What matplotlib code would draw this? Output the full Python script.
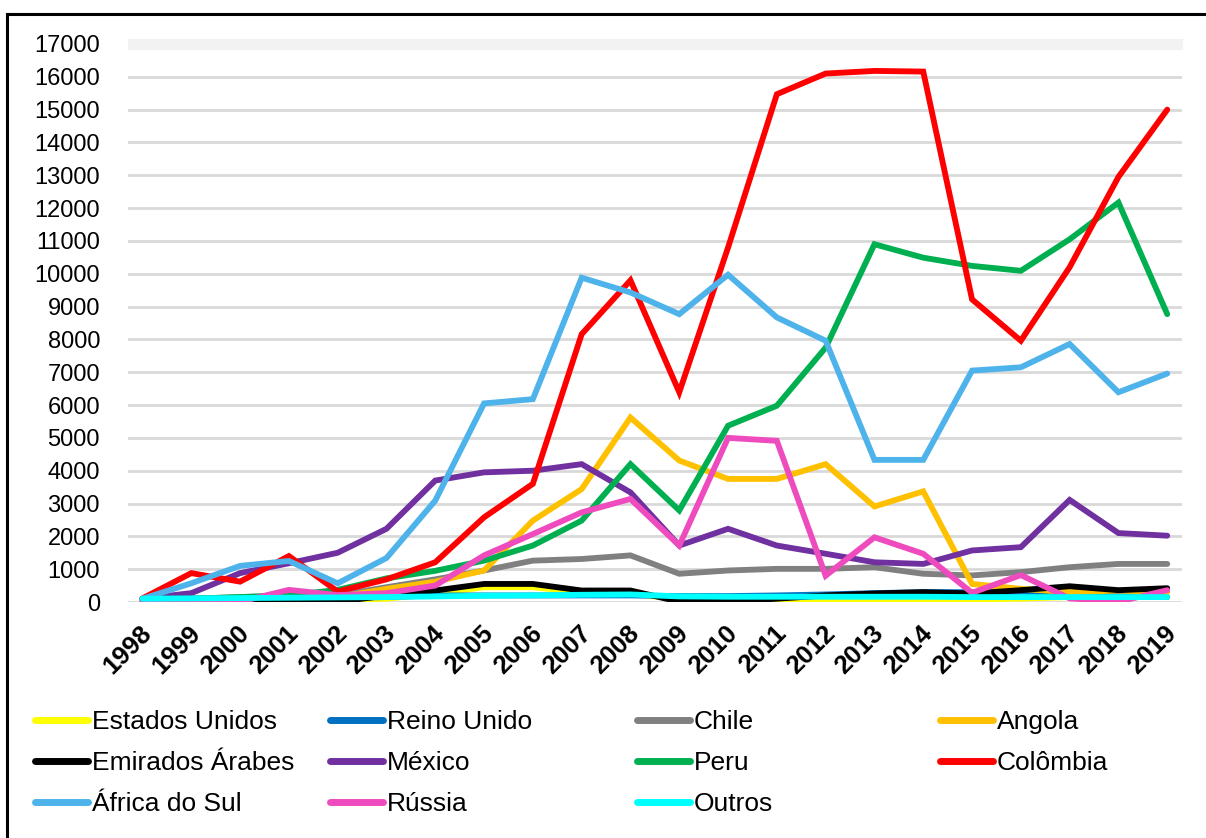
import matplotlib
matplotlib.use("Agg")
import matplotlib.pyplot as plt
from matplotlib.lines import Line2D
import matplotlib.transforms as mtransforms

plt.rcParams["font.family"] = ["Liberation Sans", "DejaVu Sans"]

years = list(range(1998, 2020))
year_labels = [str(y) for y in years]

estados_unidos = [50, 30, 20, 20, 50, 100, 250, 450, 450, 300, 250, 80, 40, 30, 50, 60, 80, 80, 100, 150, 150, 150]
reino_unido = [80, 100, 100, 120, 120, 150, 200, 200, 200, 200, 200, 180, 180, 200, 230, 270, 300, 300, 280, 200, 180, 150]
chile = [100, 100, 150, 200, 200, 450, 690, 960, 1260, 1310, 1420, 860, 960, 1010, 1010, 1060, 860, 810, 910, 1060, 1160, 1160]
angola = [100, 50, 50, 100, 150, 400, 620, 960, 2480, 3440, 5620, 4310, 3750, 3750, 4200, 2910, 3370, 550, 400, 300, 350, 300]
emirados = [50, 30, 50, 0, 0, 200, 350, 550, 550, 350, 350, 10, 10, 100, 200, 260, 300, 260, 360, 480, 360, 420]
mexico = [100, 270, 880, 1180, 1500, 2230, 3700, 3950, 4000, 4200, 3340, 1720, 2230, 1720, 1470, 1210, 1160, 1570, 1670, 3110, 2100, 2020]
peru = [100, 100, 150, 200, 370, 720, 950, 1260, 1720, 2480, 4200, 2790, 5370, 5980, 7750, 10900, 10490, 10240, 10090, 11050, 12170, 8770]
colombia = [110, 880, 620, 1400, 320, 690, 1210, 2580, 3600, 8160, 9800, 6390, 10800, 15470, 16100, 16180, 16160, 9220, 7960, 10200, 12950, 15000]
africa_do_sul = [100, 570, 1100, 1250, 570, 1340, 3090, 6050, 6180, 9880, 9430, 8770, 9970, 8670, 7960, 4330, 4330, 7050, 7150, 7860, 6390, 6960]
russia = [60, 10, 10, 370, 210, 270, 500, 1420, 2070, 2730, 3140, 1720, 5000, 4910, 800, 1970, 1470, 280, 820, 110, 10, 360]
outros = [100, 110, 120, 130, 140, 150, 170, 190, 200, 220, 230, 170, 160, 160, 160, 160, 160, 150, 150, 150, 150, 150]

series = [
    ("Estados Unidos", estados_unidos, "#FFFF00"),
    ("Reino Unido", reino_unido, "#0070C0"),
    ("Chile", chile, "#808080"),
    ("Angola", angola, "#FFC000"),
    ("Emirados Árabes", emirados, "#000000"),
    ("México", mexico, "#7030A0"),
    ("Peru", peru, "#00B050"),
    ("Colômbia", colombia, "#FF0000"),
    ("África do Sul", africa_do_sul, "#4DB3EA"),
    ("Rússia", russia, "#EE4CBE"),
    ("Outros", outros, "#00FFFF"),
]

fig = plt.figure(figsize=(12.06, 8.38), dpi=100)
ax = fig.add_axes([0.106, 1 - 602 / 838, 0.874, (602 - 44) / 838])

handles = {}
for name, vals, color in series:
    (ln,) = ax.plot(years, vals, color=color, lw=4.2, solid_joinstyle="miter",
                    solid_capstyle="round", label=name)
    handles[name] = ln

ax.set_xlim(1997.7, 2019.3)
ax.set_ylim(0, 17000)
ax.set_yticks(range(0, 17001, 1000))
ax.set_xticks(years)
ax.set_xticklabels([])
# year labels, slanted, hung just under each tick
lbl_tr = ax.get_xaxis_transform() + mtransforms.ScaledTranslation(-3 / 100, -19 / 100, fig.dpi_scale_trans)
for yr, txt in zip(years, year_labels):
    ax.text(yr, 0, txt, transform=lbl_tr, rotation=45, ha="right", va="top",
            rotation_mode="anchor", fontsize=18.5, fontweight="bold", clip_on=False)
ax.tick_params(axis="y", length=0, pad=20, labelsize=17)
ax.tick_params(axis="x", length=0)
for sp in ax.spines.values():
    sp.set_visible(False)
for v in range(0, 17000, 1000):
    ax.axhline(v, color="#d9d9d9", lw=2, zorder=0)
ax.axhline(17000, xmin=0.005, xmax=0.995, color="#f2f2f2", lw=8, zorder=0, clip_on=False)

# legend laid out in fixed columns, row by row
columns = [
    (35, ["Estados Unidos", "Emirados Árabes", "África do Sul"]),
    (330, ["Reino Unido", "México", "Rússia"]),
    (637, ["Chile", "Peru", "Outros"]),
    (940, ["Angola", "Colômbia"]),
]
for x_px, names in columns:
    hs = [Line2D([], [], color=handles[n].get_color(), lw=5, solid_capstyle="round") for n in names]
    fig.legend(hs, names, loc="upper left", bbox_to_anchor=(x_px / 1206, 1 - 710 / 838),
               frameon=False, fontsize=19, handlelength=2.0, handletextpad=0.15,
               labelspacing=0.65, borderpad=0, borderaxespad=0)

# outer frame (top and left edges visible in the original)
fig.add_artist(Line2D([7 / 1206, 7 / 1206], [0, 1 - 14 / 838], color="black", lw=2.2,
                      transform=fig.transFigure))
fig.add_artist(Line2D([7 / 1206, 1], [1 - 14 / 838, 1 - 14 / 838], color="black", lw=2.2,
                      transform=fig.transFigure))

fig.savefig("out.png", dpi=100)
